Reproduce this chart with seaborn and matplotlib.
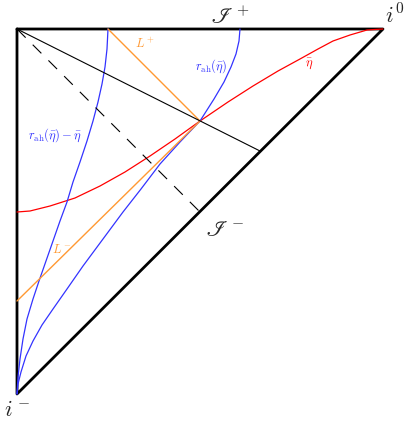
import numpy as np
import pandas as pd
import matplotlib
matplotlib.use("Agg")
import matplotlib.pyplot as plt
import seaborn as sns

sns.set_style("white")
plt.rcParams["mathtext.fontset"] = "cm"

# diagram geometry (picture coordinates, y grows downward)
boundary_x = [17, 383, 17, 17]
boundary_y = [30, 30, 395, 30]

# red curve: eta-bar
eta_x = [17, 30, 50, 75, 100, 125, 150, 175, 200, 228, 253, 278, 300, 318, 333, 350, 367, 383]
eta_y = [213, 212, 207, 199, 187, 173, 157, 140, 122, 103, 87, 72, 60, 50, 42, 36, 31, 30]

# blue curve: r_ah(eta-bar)
rah_x = [240, 239, 236, 231, 224, 214, 200, 180, 160, 141, 123, 103, 83, 67, 53, 42, 33, 26, 21, 18, 17]
rah_y = [30, 42, 55, 68, 83, 100, 122, 143, 165, 190, 213, 240, 267, 290, 310, 326, 342, 357, 373, 385, 395]

# blue curve: r_ah(eta-bar) - eta-bar
rahm_x = [108, 107, 105, 102, 98, 93, 87, 80, 73, 67, 60, 53, 46, 39, 33, 27, 23, 20, 18, 17]
rahm_y = [30, 50, 68, 85, 103, 122, 142, 163, 183, 203, 222, 242, 262, 282, 300, 320, 340, 360, 378, 395]

# orange light rays
lplus_x, lplus_y = [108, 200], [30, 122]
lminus_x, lminus_y = [200, 17], [122, 302]

# black thin and dashed lines from top-left corner
solid_x, solid_y = [17, 260], [30, 152]
dash_x, dash_y = [17, 200], [30, 213]

fig = plt.figure(figsize=(4.14, 4.27), dpi=100)
ax = fig.add_axes([0, 0, 1, 1])

def draw(xs, ys, **kw):
    df = pd.DataFrame({"x": xs, "y": ys})
    sns.lineplot(data=df, x="x", y="y", sort=False, estimator=None, ax=ax, **kw)

draw(boundary_x, boundary_y, color="black", linewidth=2)
draw(eta_x, eta_y, color="red", linewidth=0.9)
draw(rah_x, rah_y, color="#3333ff", linewidth=0.9)
draw(rahm_x, rahm_y, color="#3333ff", linewidth=0.9)
draw(lplus_x, lplus_y, color="#ff9933", linewidth=1)
draw(lminus_x, lminus_y, color="#ff9933", linewidth=1)
draw(solid_x, solid_y, color="black", linewidth=0.8)
draw(dash_x, dash_y, color="black", linewidth=0.8, linestyle=(0, (11, 9)))

ax.text(230, 17, r"$\mathscr{I}^+$", fontsize=16, ha="center", va="center")
ax.text(395, 15, r"$i^0$", fontsize=16, ha="center", va="center")
ax.text(225, 230, r"$\mathscr{I}^-$", fontsize=16, ha="center", va="center")
ax.text(17, 410, r"$i^-$", fontsize=16, ha="center", va="center")
ax.text(145, 44, r"$L^+$", fontsize=9, color="#ff9933", ha="center", va="center")
ax.text(62, 250, r"$L^-$", fontsize=9, color="#ff9933", ha="center", va="center")
ax.text(211, 66, r"$r_{\rm ah}(\bar\eta)$", fontsize=9, color="#3333ff", ha="center", va="center")
ax.text(55, 135, r"$r_{\rm ah}(\bar\eta)-\bar\eta$", fontsize=9, color="#3333ff", ha="center", va="center")
ax.text(309, 64, r"$\bar\eta$", fontsize=9, color="red", ha="center", va="center")

ax.set_xlim(0, 414)
ax.set_ylim(427, 0)
ax.axis("off")
fig.savefig("out.png", dpi=100)
